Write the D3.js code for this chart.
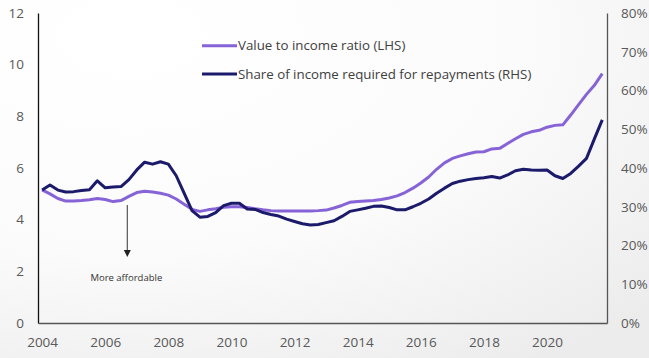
<!DOCTYPE html>
<html>
<head>
<meta charset="utf-8">
<script src="https://cdn.jsdelivr.net/npm/d3@7/dist/d3.min.js"></script>
<style>
  html, body { margin: 0; padding: 0; background: #fff; }
  svg { display: block; }
  text { font-family: "Open Sans", "DejaVu Sans", sans-serif; }
</style>
</head>
<body>
<svg id="chart" width="649" height="358"></svg>
<script>
// Quarterly periods, 2004 Q1 to 2021 Q4
const quarters = [
  "2004Q1","2004Q2","2004Q3","2004Q4","2005Q1","2005Q2","2005Q3","2005Q4",
  "2006Q1","2006Q2","2006Q3","2006Q4","2007Q1","2007Q2","2007Q3","2007Q4",
  "2008Q1","2008Q2","2008Q3","2008Q4","2009Q1","2009Q2","2009Q3","2009Q4",
  "2010Q1","2010Q2","2010Q3","2010Q4","2011Q1","2011Q2","2011Q3","2011Q4",
  "2012Q1","2012Q2","2012Q3","2012Q4","2013Q1","2013Q2","2013Q3","2013Q4",
  "2014Q1","2014Q2","2014Q3","2014Q4","2015Q1","2015Q2","2015Q3","2015Q4",
  "2016Q1","2016Q2","2016Q3","2016Q4","2017Q1","2017Q2","2017Q3","2017Q4",
  "2018Q1","2018Q2","2018Q3","2018Q4","2019Q1","2019Q2","2019Q3","2019Q4",
  "2020Q1","2020Q2","2020Q3","2020Q4","2021Q1","2021Q2","2021Q3","2021Q4"
];

// Value to income ratio (left axis)
const valueToIncome = [
  5.15, 5.00, 4.82, 4.72, 4.72, 4.74, 4.77, 4.82,
  4.78, 4.70, 4.74, 4.90, 5.05, 5.10, 5.07, 5.02,
  4.95, 4.80, 4.60, 4.40, 4.32, 4.38, 4.42, 4.48,
  4.50, 4.50, 4.47, 4.42, 4.38, 4.35, 4.34, 4.34,
  4.34, 4.34, 4.34, 4.35, 4.37, 4.45, 4.55, 4.67,
  4.70, 4.72, 4.74, 4.78, 4.84, 4.92, 5.05, 5.22,
  5.42, 5.65, 5.95, 6.20, 6.37, 6.47, 6.55, 6.62,
  6.63, 6.74, 6.76, 6.95, 7.13, 7.30, 7.40, 7.46,
  7.58, 7.65, 7.67, 8.05, 8.45, 8.85, 9.20, 9.65
];

// Share of income required for repayments, % (right axis)
const repaymentShare = [
  34.3, 35.6, 34.3, 33.8, 33.9, 34.2, 34.4, 36.7,
  34.9, 35.1, 35.2, 37.0, 39.5, 41.5, 41.0, 41.6,
  41.0, 38.0, 33.5, 29.0, 27.3, 27.5, 28.5, 30.3,
  30.9, 30.9, 29.4, 29.3, 28.5, 28.0, 27.6, 26.8,
  26.2, 25.6, 25.3, 25.4, 25.9, 26.4, 27.5, 28.8,
  29.2, 29.6, 30.1, 30.2, 29.8, 29.2, 29.2, 30.0,
  30.9, 32.0, 33.5, 34.8, 36.0, 36.6, 37.0, 37.3,
  37.5, 37.8, 37.4, 38.2, 39.3, 39.7, 39.5, 39.4,
  39.5, 38.0, 37.3, 38.6, 40.5, 42.5, 47.5, 52.4
];

const xTickYears = [2004, 2006, 2008, 2010, 2012, 2014, 2016, 2018, 2020];
const leftTicks = [0, 2, 4, 6, 8, 10, 12];
const rightTicks = [0, 10, 20, 30, 40, 50, 60, 70, 80];

const seriesNames = ["Value to income ratio (LHS)", "Share of income required for repayments (RHS)"];
const annotationText = "More affordable";

const colLight = "#8663d6";
const colDark = "#1b1a6b";

const svg = d3.select("#chart");
const W = 649, H = 358;
const plot = { left: 38, right: 607, top: 13, bottom: 323 };

// soft background shading
const defs = svg.append("defs");
const bg = defs.append("radialGradient").attr("id", "bg")
  .attr("cx", "0.2").attr("cy", "0.1").attr("r", "1.1");
bg.append("stop").attr("offset", "0").attr("stop-color", "#ffffff");
bg.append("stop").attr("offset", "0.55").attr("stop-color", "#fbfbfb");
bg.append("stop").attr("offset", "1").attr("stop-color", "#ececec");
svg.append("rect").attr("width", W).attr("height", H).attr("fill", "url(#bg)");

const toTime = q => +q.slice(0, 4) + (+q.slice(5) - 1) / 4;

const x = d3.scaleLinear().domain([2003.87, 2021.9]).range([plot.left, plot.right]);
const yL = d3.scaleLinear().domain([0, 12]).range([plot.bottom, plot.top]);
const yR = d3.scaleLinear().domain([0, 80]).range([plot.bottom, plot.top]);

const tickColor = "#595959";

// left axis
const axL = svg.append("g").attr("transform", `translate(${plot.left},0)`)
  .call(d3.axisLeft(yL).tickValues(leftTicks).tickSize(0).tickPadding(14));
axL.select(".domain").attr("stroke", "#111").attr("stroke-width", 1.3);
axL.selectAll("text").attr("fill", tickColor).style("font-size", "13.5px");

// right axis
const axR = svg.append("g").attr("transform", `translate(${plot.right},0)`)
  .call(d3.axisRight(yR).tickValues(rightTicks).tickSize(0).tickPadding(14)
    .tickFormat(d => d + "%"));
axR.select(".domain").attr("stroke", "#555").attr("stroke-width", 1.3);
axR.selectAll("text").attr("fill", tickColor).style("font-size", "13.5px");

// bottom axis
const axB = svg.append("g").attr("transform", `translate(0,${plot.bottom})`)
  .call(d3.axisBottom(x).tickValues(xTickYears).tickSize(0).tickPadding(14)
    .tickFormat(d3.format("d")));
axB.select(".domain").attr("stroke", "#555").attr("stroke-width", 1.5);
axB.selectAll("text").attr("fill", tickColor).style("font-size", "13.5px");

// series lines
const lineL = d3.line().x((d, i) => x(toTime(quarters[i]))).y(d => yL(d));
const lineR = d3.line().x((d, i) => x(toTime(quarters[i]))).y(d => yR(d));

svg.append("path").datum(valueToIncome).attr("d", lineL)
  .attr("fill", "none").attr("stroke", colLight).attr("stroke-width", 3)
  .attr("stroke-linejoin", "round");
svg.append("path").datum(repaymentShare).attr("d", lineR)
  .attr("fill", "none").attr("stroke", colDark).attr("stroke-width", 3)
  .attr("stroke-linejoin", "round");

// legend
const legend = svg.append("g");
[[seriesNames[0], colLight, 45.7], [seriesNames[1], colDark, 74]].forEach(([name, c, y]) => {
  legend.append("line").attr("x1", 202).attr("x2", 237).attr("y1", y).attr("y2", y)
    .attr("stroke", c).attr("stroke-width", 3);
  legend.append("text").attr("x", 238).attr("y", y).attr("dy", "0.35em")
    .attr("fill", "#404040").style("font-size", "13.3px").text(name);
});

// annotation arrow
const ax = x(2006.7);
svg.append("line").attr("x1", ax).attr("x2", ax).attr("y1", 205).attr("y2", 251)
  .attr("stroke", "#555").attr("stroke-width", 1.2);
svg.append("path").attr("d", `M${ax - 3.5},250 L${ax + 3.5},250 L${ax},257 Z`).attr("fill", "#222");
svg.append("text").attr("x", ax - 1).attr("y", 278).attr("dy", "0.35em")
  .attr("text-anchor", "middle").attr("fill", "#333").style("font-size", "9.5px")
  .text(annotationText);
</script>
</body>
</html>
